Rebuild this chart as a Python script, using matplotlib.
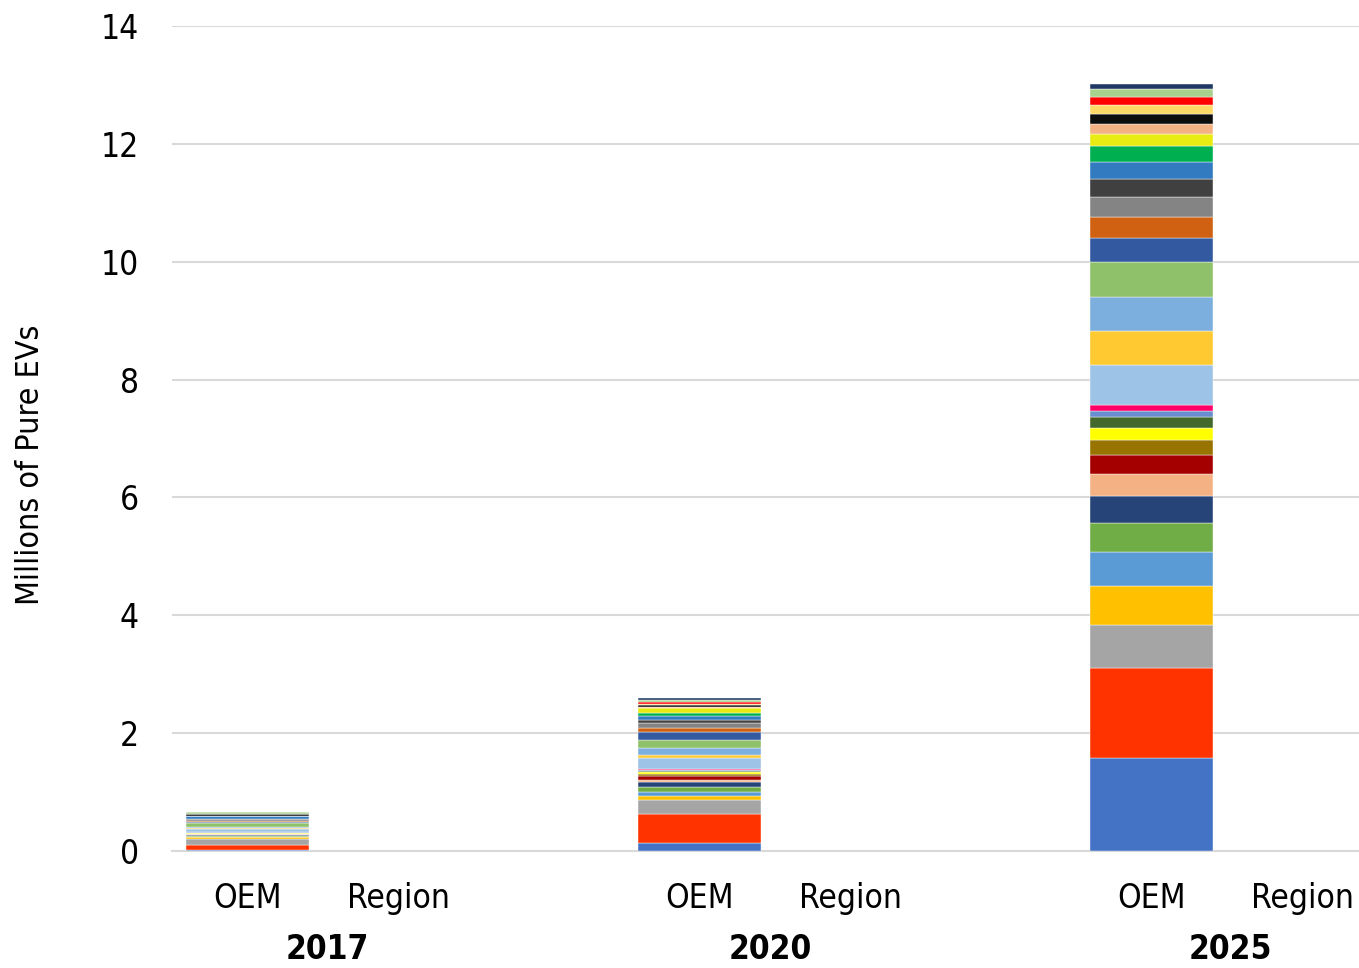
# -*- coding: utf-8 -*-

import matplotlib.pyplot as plt
import numpy as np

# category slots: OEM / Region per year, with an empty slot between years
categories = ['OEM', 'Region', '', 'OEM', 'Region', '', 'OEM', 'Region', '']
years = ['2017', '2020', '2025']

# stacked segments, bottom to top (millions), one value per OEM bar
colors = ['#4472C4', '#FF3300', '#A5A5A5', '#FFC000', '#5B9BD5', '#70AD47',
          '#264478', '#F4B183', '#A50000', '#997300', '#FFFF00', '#43682B',
          '#698ED0', '#FF0066', '#9DC3E6', '#FFC931', '#7CAFDD', '#8FC16A',
          '#335AA1', '#D06012', '#848484', '#404040', '#327BC0', '#00B050',
          '#E8EC12', '#F4B183', '#0D0D0D', '#FFD966', '#FF0000', '#A9D18E',
          '#203864']

seg_2017 = [0.01, 0.09, 0.10, 0.03, 0.01, 0.01, 0.02, 0.01, 0.01, 0.005, 0.005,
            0.005, 0.01, 0.01, 0.05, 0.01, 0.03, 0.06, 0.02, 0.01, 0.03, 0.01,
            0.04, 0.005, 0.005, 0.005, 0.02, 0.005, 0.005, 0.03, 0.005]
seg_2020 = [0.14, 0.49, 0.24, 0.06, 0.07, 0.08, 0.09, 0.04, 0.07, 0.03, 0.03,
            0.02, 0.02, 0.01, 0.18, 0.06, 0.11, 0.15, 0.13, 0.07, 0.08, 0.06,
            0.06, 0.05, 0.08, 0.03, 0.02, 0.03, 0.03, 0.03, 0.03]
seg_2025 = [1.58, 1.53, 0.72, 0.67, 0.58, 0.49, 0.45, 0.38, 0.32, 0.26, 0.20,
            0.18, 0.11, 0.10, 0.67, 0.58, 0.58, 0.59, 0.41, 0.35, 0.34, 0.31,
            0.29, 0.27, 0.21, 0.17, 0.17, 0.14, 0.14, 0.14, 0.08]

oem_pos = [0, 3, 6]
year_pos = [0.53, 3.47, 6.52]

plt.rcParams['font.family'] = ['DejaVu Sans']
plt.rcParams['font.stretch'] = 'condensed'

fig = plt.figure(figsize=(13.59, 9.68), dpi=100)
ax = fig.add_axes([0.1266, 0.1209, 0.998, 0.8523])

data = np.array([seg_2017, seg_2020, seg_2025])
bottom = np.zeros(len(oem_pos))
for k, c in enumerate(colors):
    ax.bar(oem_pos, data[:, k], bottom=bottom, width=0.82, color=c,
           edgecolor='white', linewidth=0.3, zorder=3)
    bottom += data[:, k]

ax.set_xlim(-0.5, len(categories) - 0.5)
ax.set_ylim(0, 14)
ax.set_yticks(np.arange(0, 15, 2))
ax.yaxis.grid(True, color='#D9D9D9', linewidth=1.5, zorder=0)
ax.set_axisbelow(True)
for s in ['top', 'right', 'left']:
    ax.spines[s].set_visible(False)
ax.spines['bottom'].set_color('#D9D9D9')
ax.spines['bottom'].set_linewidth(1.5)
ax.tick_params(axis='y', length=0, labelsize=24, pad=24)
ax.tick_params(axis='x', length=0, labelsize=24, pad=22)
ax.set_xticks(range(len(categories)))
ax.set_xticklabels(categories)

for p, y in zip(year_pos, years):
    ax.text(p, -0.12, y, transform=ax.get_xaxis_transform(), ha='center',
            va='center', fontsize=24, fontweight='bold')

ax.set_ylabel('Millions of Pure EVs', fontsize=23)
ax.yaxis.set_label_coords(-0.093, 0.468)

fig.savefig('out.png', dpi=100)
